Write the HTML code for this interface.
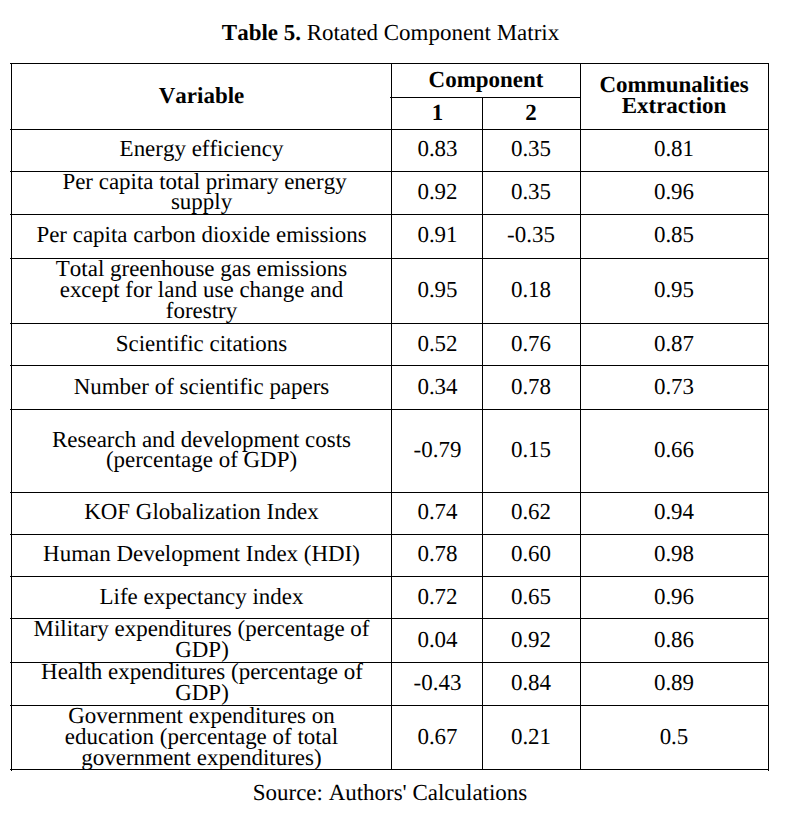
<!DOCTYPE html>
<html><head><meta charset="utf-8"><title>Table 5</title>
<style>
html,body{margin:0;padding:0;background:#fff;}
body{width:805px;height:823px;position:relative;overflow:hidden;font-family:"Liberation Serif",serif;color:#000;font-size:22.96px;font-kerning:none;font-variant-ligatures:none;text-rendering:geometricPrecision;}
.h{position:absolute;height:1px;background:#000;}
.v{position:absolute;width:1px;background:#000;}
.t{position:absolute;white-space:nowrap;text-align:center;line-height:24px;height:24px;}
.b{font-weight:bold;}
</style></head><body>

<div class="h" style="left:10px;top:63px;width:759px"></div>
<div class="h" style="left:10px;top:129px;width:759px"></div>
<div class="h" style="left:10px;top:171px;width:759px"></div>
<div class="h" style="left:10px;top:214px;width:759px"></div>
<div class="h" style="left:10px;top:258px;width:759px"></div>
<div class="h" style="left:10px;top:323px;width:759px"></div>
<div class="h" style="left:10px;top:365px;width:759px"></div>
<div class="h" style="left:10px;top:409px;width:759px"></div>
<div class="h" style="left:10px;top:492px;width:759px"></div>
<div class="h" style="left:10px;top:534px;width:759px"></div>
<div class="h" style="left:10px;top:576px;width:759px"></div>
<div class="h" style="left:10px;top:618px;width:759px"></div>
<div class="h" style="left:10px;top:662px;width:759px"></div>
<div class="h" style="left:10px;top:705px;width:759px"></div>
<div class="h" style="left:10px;top:769px;width:759px"></div>
<div class="h" style="left:390px;top:97px;width:191px"></div>
<div class="v" style="left:11px;top:63px;height:708px"></div>
<div class="v" style="left:391px;top:63px;height:707px"></div>
<div class="v" style="left:482px;top:97px;height:673px"></div>
<div class="v" style="left:580px;top:63px;height:707px"></div>
<div class="v" style="left:768px;top:63px;height:708px"></div>
<div class="t" style="left:0;width:781px;top:21px"><span class="b">Table 5.</span> Rotated Component Matrix</div>
<div class="t b" style="left:11.5px;width:380px;top:84px">Variable</div>
<div class="t b" style="left:391px;width:190px;top:68px">Component</div>
<div class="t b" style="left:392px;width:91px;top:101px">1</div>
<div class="t b" style="left:482px;width:98px;top:101px">2</div>
<div class="t b" style="left:580px;width:188px;top:73px">Communalities</div>
<div class="t b" style="left:580px;width:188px;top:94px">Extraction</div>
<div class="t" style="left:11.5px;width:380px;top:137px">Energy efficiency</div>
<div class="t" style="left:392px;width:91px;top:137px">0.83</div>
<div class="t" style="left:482px;width:98px;top:137px">0.35</div>
<div class="t" style="left:580px;width:188px;top:137px">0.81</div>
<div class="t" style="left:14.5px;width:380px;top:170px">Per capita total primary energy</div>
<div class="t" style="left:11.5px;width:380px;top:190px">supply</div>
<div class="t" style="left:392px;width:91px;top:180px">0.92</div>
<div class="t" style="left:482px;width:98px;top:180px">0.35</div>
<div class="t" style="left:580px;width:188px;top:180px">0.96</div>
<div class="t" style="left:11.5px;width:380px;top:223px">Per capita carbon dioxide emissions</div>
<div class="t" style="left:392px;width:91px;top:223px">0.91</div>
<div class="t" style="left:482px;width:98px;top:223px">-0.35</div>
<div class="t" style="left:580px;width:188px;top:223px">0.85</div>
<div class="t" style="left:11.5px;width:380px;top:257px">Total greenhouse gas emissions</div>
<div class="t" style="left:11.5px;width:380px;top:278px">except for land use change and</div>
<div class="t" style="left:11.5px;width:380px;top:299px">forestry</div>
<div class="t" style="left:392px;width:91px;top:278px">0.95</div>
<div class="t" style="left:482px;width:98px;top:278px">0.18</div>
<div class="t" style="left:580px;width:188px;top:278px">0.95</div>
<div class="t" style="left:11.5px;width:380px;top:332px">Scientific citations</div>
<div class="t" style="left:392px;width:91px;top:332px">0.52</div>
<div class="t" style="left:482px;width:98px;top:332px">0.76</div>
<div class="t" style="left:580px;width:188px;top:332px">0.87</div>
<div class="t" style="left:11.5px;width:380px;top:375px">Number of scientific papers</div>
<div class="t" style="left:392px;width:91px;top:375px">0.34</div>
<div class="t" style="left:482px;width:98px;top:375px">0.78</div>
<div class="t" style="left:580px;width:188px;top:375px">0.73</div>
<div class="t" style="left:11.5px;width:380px;top:428px">Research and development costs</div>
<div class="t" style="left:11.5px;width:380px;top:448px">(percentage of GDP)</div>
<div class="t" style="left:392px;width:91px;top:438px">-0.79</div>
<div class="t" style="left:482px;width:98px;top:438px">0.15</div>
<div class="t" style="left:580px;width:188px;top:438px">0.66</div>
<div class="t" style="left:11.5px;width:380px;top:500px">KOF Globalization Index</div>
<div class="t" style="left:392px;width:91px;top:500px">0.74</div>
<div class="t" style="left:482px;width:98px;top:500px">0.62</div>
<div class="t" style="left:580px;width:188px;top:500px">0.94</div>
<div class="t" style="left:11.5px;width:380px;top:542px">Human Development Index (HDI)</div>
<div class="t" style="left:392px;width:91px;top:542px">0.78</div>
<div class="t" style="left:482px;width:98px;top:542px">0.60</div>
<div class="t" style="left:580px;width:188px;top:542px">0.98</div>
<div class="t" style="left:11.5px;width:380px;top:585px">Life expectancy index</div>
<div class="t" style="left:392px;width:91px;top:585px">0.72</div>
<div class="t" style="left:482px;width:98px;top:585px">0.65</div>
<div class="t" style="left:580px;width:188px;top:585px">0.96</div>
<div class="t" style="left:11.5px;width:380px;top:617px">Military expenditures (percentage of</div>
<div class="t" style="left:12px;width:380px;top:638px">GDP)</div>
<div class="t" style="left:392px;width:91px;top:628px">0.04</div>
<div class="t" style="left:482px;width:98px;top:628px">0.92</div>
<div class="t" style="left:580px;width:188px;top:628px">0.86</div>
<div class="t" style="left:12px;width:380px;top:660px">Health expenditures (percentage of</div>
<div class="t" style="left:12px;width:380px;top:681px">GDP)</div>
<div class="t" style="left:392px;width:91px;top:671px">-0.43</div>
<div class="t" style="left:482px;width:98px;top:671px">0.84</div>
<div class="t" style="left:580px;width:188px;top:671px">0.89</div>
<div class="t" style="left:11.5px;width:380px;top:704px">Government expenditures on</div>
<div class="t" style="left:11.5px;width:380px;top:725px">education (percentage of total</div>
<div class="t" style="left:11.5px;width:380px;top:746px">government expenditures)</div>
<div class="t" style="left:392px;width:91px;top:725px">0.67</div>
<div class="t" style="left:482px;width:98px;top:725px">0.21</div>
<div class="t" style="left:580px;width:188px;top:725px">0.5</div>
<div class="t" style="left:0;width:780px;top:781px">Source: Authors' Calculations</div>
</body></html>
